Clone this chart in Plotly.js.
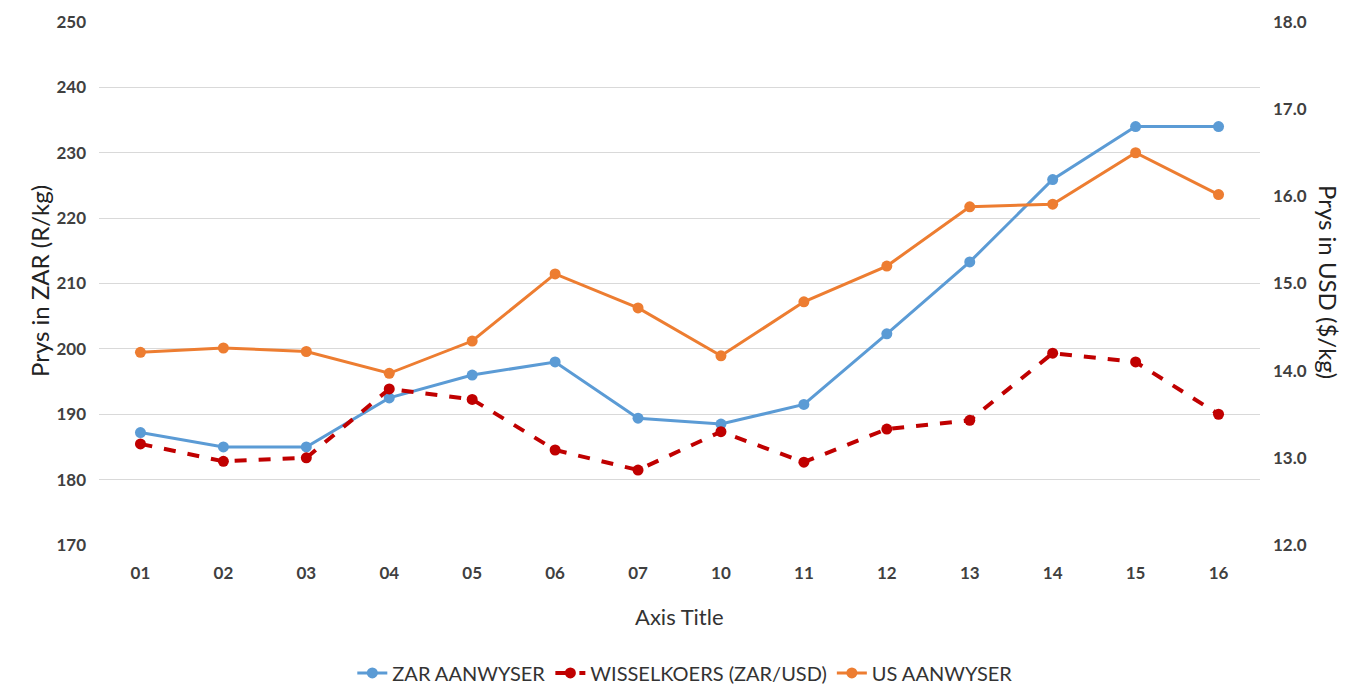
<!DOCTYPE html>
<html>
<head>
<meta charset="utf-8">
<script src="https://cdn.plot.ly/plotly-3.0.1.min.js"></script>
<style>html,body{margin:0;padding:0;background:#fff;}#chart{width:1370px;height:687px;}</style>
</head>
<body>
<div id="chart"></div>
<script>
const categories = ["01","02","03","04","05","06","07","10","11","12","13","14","15","16"];
const zarAanwyser = [187.2,185.0,185.0,192.5,196.0,198.0,189.4,188.5,191.5,202.3,213.3,225.9,234.0,234.0];
const wisselkoers = [13.16,12.96,13.0,13.79,13.67,13.09,12.86,13.3,12.95,13.33,13.43,14.2,14.1,13.5];
const usAanwyser = [14.21,14.26,14.22,13.97,14.34,15.11,14.72,14.17,14.79,15.2,15.88,15.91,16.5,16.02];
const leftTicks = [170,180,190,200,210,220,230,240,250];
const rightTicks = [12,13,14,15,16,17,18];

const FONT = "Lato, 'Open Sans', sans-serif";
const TXT = "#404040";
const traces = [
  {x: categories, y: zarAanwyser, name: "ZAR AANWYSER", type: "scatter", mode: "lines+markers",
   line: {color: "#5B9BD5", width: 3}, marker: {color: "#5B9BD5", size: 11}, yaxis: "y"},
  {x: categories, y: wisselkoers, name: "WISSELKOERS (ZAR/USD)", type: "scatter", mode: "lines+markers",
   line: {color: "#C00000", width: 4, dash: "dash"}, marker: {color: "#C00000", size: 11}, yaxis: "y2"},
  {x: categories, y: usAanwyser, name: "US AANWYSER", type: "scatter", mode: "lines+markers",
   line: {color: "#ED7D31", width: 3}, marker: {color: "#ED7D31", size: 11}, yaxis: "y2"}
];

const layout = {
  width: 1370, height: 687,
  margin: {l: 99, r: 110, t: 22, b: 142, autoexpand: false},
  paper_bgcolor: "#fff", plot_bgcolor: "#fff",
  font: {family: FONT, color: TXT},
  showlegend: true,
  legend: {orientation: "h", x: 0.505, xanchor: "center", y: -0.2447, yanchor: "middle",
           font: {family: FONT, size: 20, color: "#333"}, itemwidth: 30, tracegroupgap: 0},
  xaxis: {type: "category", range: [-0.5, 13.5], showgrid: false, zeroline: false, showline: false,
          ticks: "", ticklabelstandoff: 16, automargin: false,
          tickfont: {family: FONT, size: 17, color: TXT, weight: "bold"}},
  yaxis: {range: [170, 250], tickvals: leftTicks, showgrid: true, gridcolor: "#d9d9d9", gridwidth: 1,
          zeroline: false, showline: false, ticks: "", ticklabelstandoff: 12, automargin: false,
          tickfont: {family: FONT, size: 17, color: TXT, weight: "bold"}},
  yaxis2: {range: [12, 18], tickvals: rightTicks, tickformat: ".1f", overlaying: "y", side: "right",
           showgrid: false, zeroline: false, showline: false, ticks: "", ticklabelstandoff: 12, automargin: false,
           tickfont: {family: FONT, size: 17, color: TXT, weight: "bold"}},
  annotations: [
    {text: "Prys in ZAR (R/kg)", xref: "paper", yref: "paper", x: 0, xshift: -76, y: 0.5, yshift: 2,
     showarrow: false, textangle: -90, font: {family: FONT, size: 24, color: "#222"}},
    {text: "Prys in USD ($/kg)", xref: "paper", yref: "paper", x: 1, xshift: 85, y: 0.5, yshift: 2,
     showarrow: false, textangle: 90, font: {family: FONT, size: 24, color: "#222"}},
    {text: "Axis Title", xref: "paper", yref: "paper", x: 0.5, y: 0, yshift: -71, yanchor: "middle",
     showarrow: false, font: {family: FONT, size: 22, color: "#333"}}
  ]
};

Plotly.newPlot("chart", traces, layout, {displayModeBar: false, staticPlot: true});
</script>
</body>
</html>
